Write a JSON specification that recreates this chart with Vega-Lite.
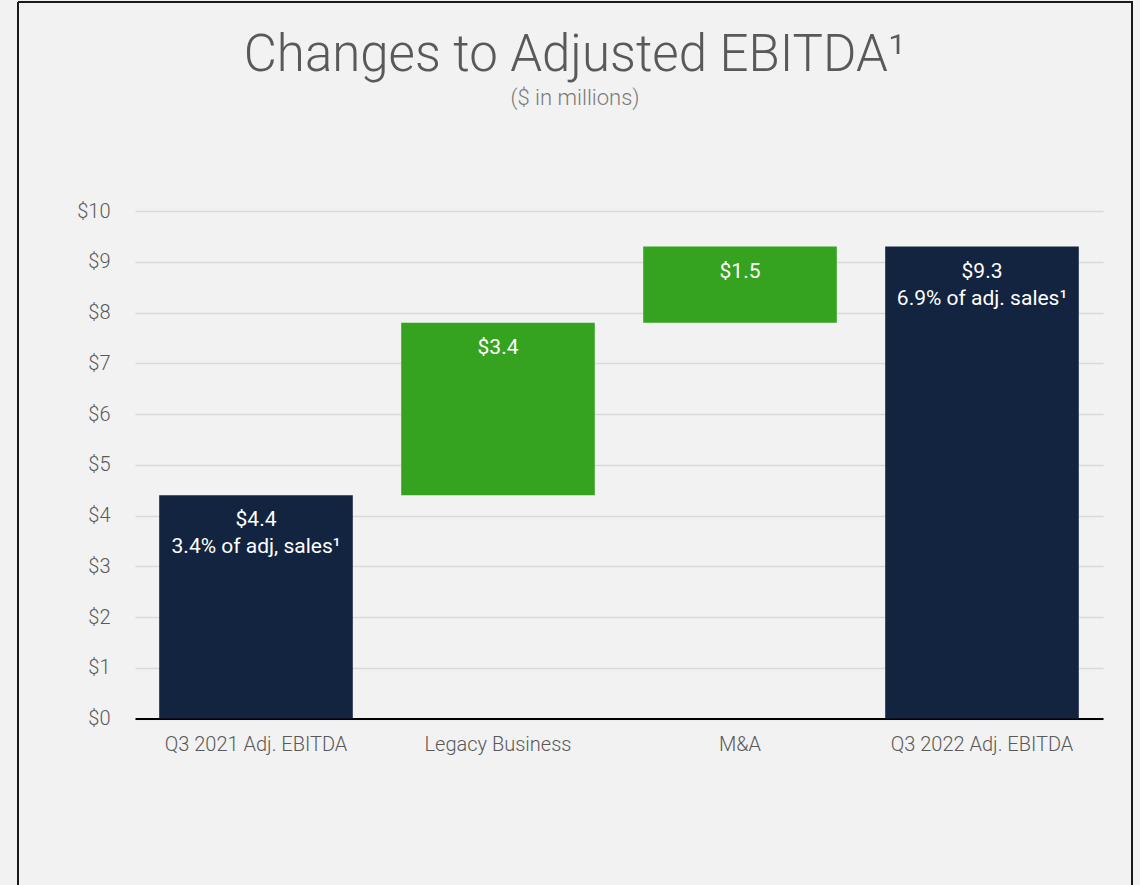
{
  "$schema": "https://vega.github.io/schema/vega-lite/v6.json",
  "width": 1114,
  "height": 883,
  "autosize": {"type": "none"},
  "padding": {"left": 18, "top": 2, "right": 8, "bottom": 0},
  "background": "#f2f2f2",
  "title": {
    "text": "Changes to Adjusted EBITDA¹",
    "subtitle": "($ in millions)",
    "anchor": "middle",
    "offset": -108,
    "font": "Roboto",
    "fontSize": 51,
    "fontWeight": 300,
    "color": "#595959",
    "subtitleFont": "Roboto",
    "subtitleFontSize": 22,
    "subtitleFontWeight": 300,
    "subtitleColor": "#7a7a7a",
    "subtitlePadding": 6
  },
  "data": {
    "values": [
      {"category": "Q3 2021 Adj. EBITDA", "start": 0, "end": 4.4, "kind": "total", "label": ["$4.4", "3.4% of adj, sales¹"]},
      {"category": "Legacy Business", "start": 4.4, "end": 7.8, "kind": "change", "label": ["$3.4"]},
      {"category": "M&A", "start": 7.8, "end": 9.3, "kind": "change", "label": ["$1.5"]},
      {"category": "Q3 2022 Adj. EBITDA", "start": 0, "end": 9.3, "kind": "total", "label": ["$9.3", "6.9% of adj. sales¹"]}
    ]
  },
  "encoding": {
    "x": {
      "field": "category",
      "type": "nominal",
      "sort": null,
      "scale": {"range": [117, 1085], "paddingInner": 0.2, "paddingOuter": 0.1},
      "axis": {
        "orient": "bottom",
        "offset": -166.5,
        "title": null,
        "labelAngle": 0,
        "labelLimit": 0,
        "domain": true,
        "domainColor": "#000000",
        "domainWidth": 2,
        "ticks": false,
        "grid": false,
        "labelPadding": 16,
        "labelFont": "Roboto",
        "labelFontSize": 20,
        "labelFontWeight": 300,
        "labelColor": "#595959"
      }
    }
  },
  "layer": [
    {
      "mark": {"type": "bar"},
      "encoding": {
        "y": {
          "field": "start",
          "type": "quantitative",
          "scale": {"domain": [0, 10], "range": [716.5, 209], "nice": false, "zero": false},
          "axis": {
            "values": [0, 1, 2, 3, 4, 5, 6, 7, 8, 9, 10],
            "labelExpr": "'$' + datum.value",
            "title": null,
            "offset": -117,
            "domain": false,
            "ticks": false,
            "grid": true,
            "gridColor": "#d9d9d9",
            "gridWidth": 1.5,
            "labelPadding": 25,
            "labelFont": "Roboto",
            "labelFontSize": 20,
            "labelFontWeight": 300,
            "labelColor": "#595959"
          }
        },
        "y2": {"field": "end"},
        "color": {
          "field": "kind",
          "type": "nominal",
          "scale": {"domain": ["total", "change"], "range": ["#12243f", "#35a320"]},
          "legend": null
        }
      }
    },
    {
      "mark": {
        "type": "text",
        "baseline": "top",
        "align": "center",
        "dy": 14,
        "font": "Roboto",
        "fontSize": 21,
        "lineHeight": 27,
        "color": "#ffffff"
      },
      "encoding": {
        "y": {"field": "end", "type": "quantitative"},
        "text": {"field": "label"}
      }
    }
  ],
  "config": {
    "view": {
      "stroke": "#1a1a1a",
      "strokeWidth": 2,
      "strokeDash": [1997, 1114, 883, 0]
    }
  }
}
